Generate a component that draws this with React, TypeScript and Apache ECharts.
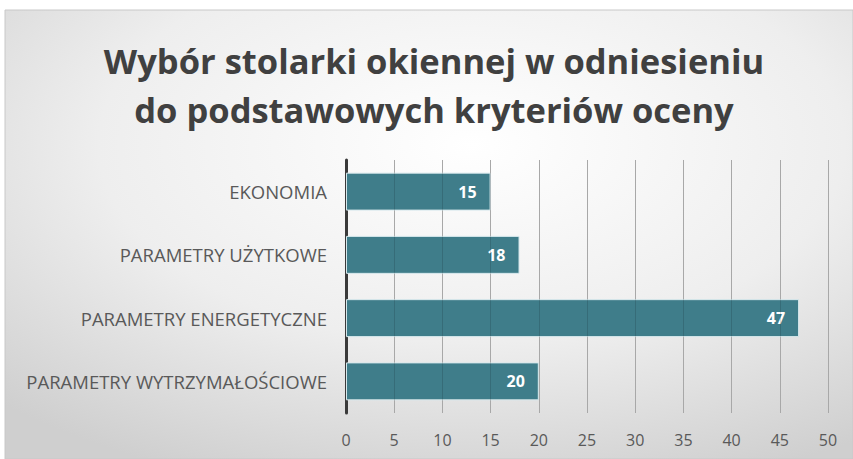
import React, { useEffect, useRef } from "react";
import * as echarts from "echarts";

const categories = [
  "EKONOMIA",
  "PARAMETRY UŻYTKOWE",
  "PARAMETRY ENERGETYCZNE",
  "PARAMETRY WYTRZYMAŁOŚCIOWE",
];
const values = [15, 18, 47, 20];
const gridValues = [5, 10, 15, 20, 25, 30, 35, 40, 45, 50];
const titleLines = ["Wybór stolarki okiennej w odniesieniu", "do podstawowych kryteriów oceny"];

export default function App() {
  const ref = useRef<HTMLDivElement>(null);
  useEffect(() => {
    if (!ref.current) return;
    const chart = echarts.init(ref.current, null, { renderer: "svg" });
    chart.setOption({
      animation: false,
      backgroundColor: "#ffffff",
      graphic: [
        {
          type: "rect",
          z: -10,
          silent: true,
          shape: { x: 5, y: 10, width: 848, height: 449 },
          style: {
            fill: new echarts.graphic.RadialGradient(0.55, 0.3, 0.8, [
              { offset: 0, color: "#ffffff" },
              { offset: 0.55, color: "#eeeeee" },
              { offset: 1, color: "#cfcfcf" },
            ]),
            stroke: "#c8c8c8",
            lineWidth: 1,
          },
        },
      ],
      title: {
        text: titleLines.join("\n"),
        left: 429,
        textAlign: "center",
        top: 31,
        textStyle: {
          fontFamily: "Open Sans",
          fontWeight: "bold",
          fontSize: 34.5,
          lineHeight: 49,
          color: "#404040",
        },
      },
      grid: { left: 346, right: 25, top: 160, bottom: 46, containLabel: false },
      xAxis: {
        type: "value",
        min: 0,
        max: 50,
        interval: 5,
        axisLine: { show: false },
        axisTick: { show: false },
        splitLine: { show: true, lineStyle: { color: "#c2c2c2", width: 1 } },
        axisLabel: {
          margin: 19,
          fontFamily: "Open Sans",
          fontSize: 16,
          color: "#595959",
        },
      },
      yAxis: {
        type: "category",
        data: categories,
        inverse: true,
        axisLine: { show: true, lineStyle: { color: "#3a3a3a", width: 3 } },
        axisTick: { show: false },
        axisLabel: {
          margin: 19,
          fontFamily: "Open Sans",
          fontSize: 18.5,
          color: "#595959",
        },
      },
      series: [
        {
          type: "bar",
          data: values,
          barWidth: "60%",
          itemStyle: { color: "#3f7d8a", borderColor: "#d7e8ec", borderWidth: 1 },
          label: {
            show: true,
            position: "insideRight",
            distance: 14,
            color: "#ffffff",
            fontFamily: "Open Sans",
            fontWeight: "bold",
            fontSize: 16,
          },
          markLine: {
            silent: true,
            symbol: "none",
            label: { show: false },
            lineStyle: { color: "rgba(0,0,0,0.13)", type: "solid", width: 1 },
            data: gridValues.map((v) => ({ xAxis: v })),
          },
        },
      ],
    });
    return () => chart.dispose();
  }, []);
  return (
    <div
      ref={ref}
      style={{ position: "absolute", left: 0, top: 0, width: 853, height: 459 }}
    />
  );
}
